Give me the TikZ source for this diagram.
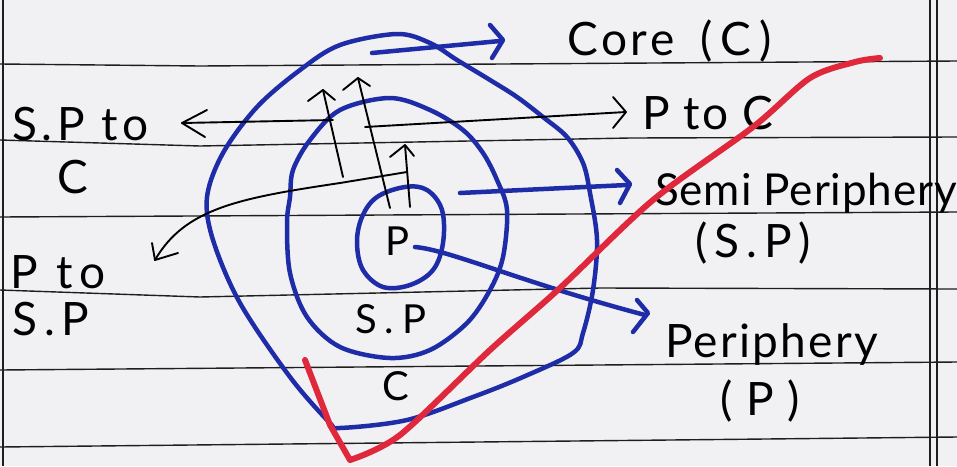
\documentclass[tikz,border=0pt]{standalone}
\usepackage{fontspec}
\setmainfont{Lato}
\definecolor{paper}{HTML}{F1F1F3}
\definecolor{ink}{HTML}{1F2CA8}
\definecolor{rule}{HTML}{1E1E1E}
\definecolor{check}{HTML}{E0283C}
\tikzset{
  ruled/.style={draw=rule, line width=1.4pt},
  ring/.style={draw=ink, line width=4.5pt, line join=round},
  blueline/.style={draw=ink, line width=4.5pt, line cap=round, line join=round},
  blackline/.style={draw=black, line width=1.9pt, line cap=round, line join=round},
  lbl/.style={inner sep=0pt, anchor=base west},
}
\newcommand{\fs}[2]{\fontsize{#1}{#1}\selectfont\addfontfeature{LetterSpace=#2}}
\begin{document}
\begin{tikzpicture}[x=1pt,y=-1pt]
\useasboundingbox (0,0) rectangle (957,466);
\fill[paper] (0,0) rectangle (957,466);
% notebook rules
\draw[ruled] (0,64) -- (200,66) -- (957,61);
\draw[ruled] (0,140) -- (200,146) -- (630,138) -- (957,137);
\draw[ruled] (0,217) -- (957,212);
\draw[ruled] (0,290) -- (200,297) -- (600,288) -- (957,289);
\draw[ruled] (0,370) -- (957,362);
\draw[ruled] (0,447) -- (957,437);
\draw[ruled] (3,0) -- (3,466);
\draw[ruled] (930,0) -- (930,466);
\draw[ruled] (937,0) -- (937,466);
% rings
\draw[ring] plot[smooth cycle, tension=0.55] coordinates {(207,197) (223,153) (257,107) (300,70) (340,45) (397,34) (430,43) (457,60) (490,80) (517,97) (543,117) (567,137) (583,163) (590,193) (597,240) (593,290) (583,333) (573,353) (523,377) (473,397) (407,420) (340,428) (330,423) (290,377) (240,303) (213,240)};
\draw[ring] plot[smooth cycle, tension=0.55] coordinates {(390,98) (430,110) (463,130) (483,153) (497,180) (507,210) (503,257) (490,290) (467,323) (430,350) (390,358) (340,347) (307,317) (290,273) (287,223) (290,197) (293,170) (310,140) (340,110)};
\draw[ring] plot[smooth cycle, tension=0.6] coordinates {(377,197) (405,187) (427,190) (442,210) (443,243) (433,270) (410,285) (383,287) (363,270) (357,243) (362,217)};
% labels
\node[lbl] (core) at (567,55) {\fs{46}{8}Core\hspace{26pt}(\,C\,)};
\node[lbl] (ptoc) at (642,129) {\fs{46}{5}P to C};
\node[lbl] (semi) at (655,205) {\fs{44}{2}Semi Periphery};
\node[lbl] (semisp) at (695,257) {\fs{46}{15}(S.P)};
\node[lbl] (peri) at (665,357) {\fs{46}{5}Periphery};
\node[lbl] (perip) at (720,415) {\fs{46}{30}(P)};
\node[lbl] (sptoc1) at (12,140) {\fs{46}{10}S.P to};
\node[lbl] (sptoc2) at (57,193) {\fs{46}{0}C};
\node[lbl] (ptosp1) at (10,288) {\fs{46}{15}P to};
\node[lbl] (ptosp2) at (12,335) {\fs{46}{15}S.P};
\node[lbl] (pin) at (385,255) {\fs{40}{0}P};
\node[lbl] (spin) at (355,333) {\fs{40}{20}S.P};
\node[lbl] (cin) at (382,400) {\fs{40}{0}C};
% blue arrows
\coordinate (coreS) at (372,53);
\coordinate (coreE) at (500,41);
\draw[blueline] (coreS) -- (coreE);
\draw[blueline] (490,25) -- (503,40) -- (492,58);
\coordinate (semiS) at (460,193);
\coordinate (semiE) at (627,185);
\draw[blueline] (semiS) -- (semiE);
\draw[blueline] (617,170) -- (630,184) -- (620,203);
\coordinate (periS) at (415,247);
\coordinate (periE) at (645,315);
\draw[blueline] (periS) .. controls (450,250) and (520,282) .. (periE);
\draw[blueline] (637,300) -- (648,313) -- (633,332);
% black arrows
\coordinate (a1s) at (343,177); \coordinate (a1e) at (323,90);
\coordinate (a2s) at (390,208); \coordinate (a2e) at (358,78);
\coordinate (a3s) at (410,207); \coordinate (a3e) at (405,145);
\draw[blackline] (a1s) -- (a1e);
\draw[blackline] (308,101) -- (a1e) -- (335,100);
\draw[blackline] (a2s) -- (a2e);
\draw[blackline] (343,90) -- (a2e) -- (370,86);
\draw[blackline] (a3s) -- (a3e);
\draw[blackline] (390,157) -- (a3e) -- (414,156);
\coordinate (spcS) at (333,120); \coordinate (spcE) at (182,123);
\draw[blackline] (spcS) -- (spcE);
\draw[blackline] (207,110) -- (spcE) -- (205,137);
\coordinate (pcS) at (365,127); \coordinate (pcE) at (626,112);
\draw[blackline] (pcS) -- (pcE);
\draw[blackline] (613,97) -- (pcE) -- (613,128);
\coordinate (pspS) at (407,172); \coordinate (pspE) at (155,260);
\draw[blackline] (pspS) -- (340,183) .. controls (240,198) and (185,208) .. (pspE);
\draw[blackline] (152,243) -- (pspE) -- (178,253);
% red check
\draw[check, line width=6pt, line cap=round, line join=round] (305,360) -- (330,425) -- (350,460) -- plot[smooth, tension=0.5] coordinates {(350,460) (400,435) (490,350) (560,288) (653,200) (753,127) (810,78) (855,62) (880,58)};
\end{tikzpicture}
\end{document}
